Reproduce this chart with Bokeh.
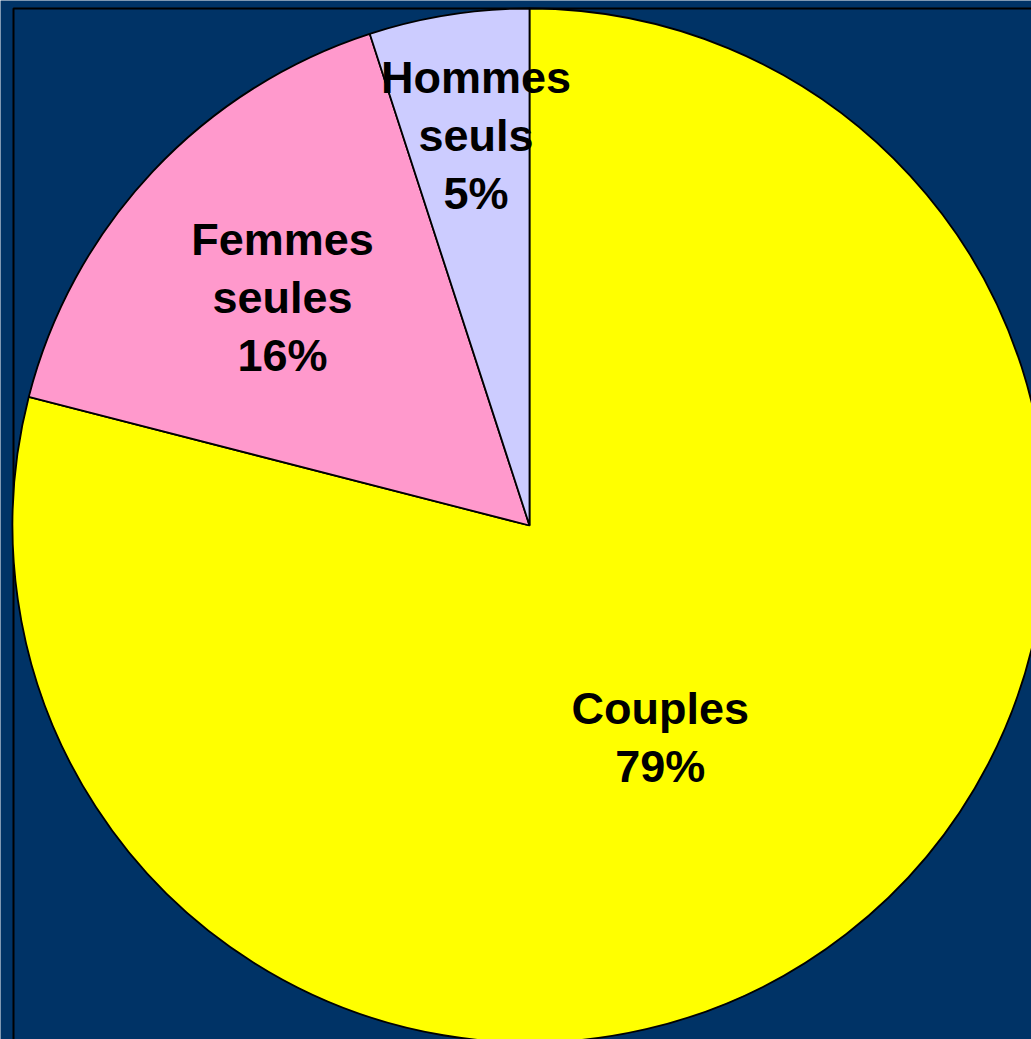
import math
from bokeh.plotting import figure
from bokeh.models import Range1d, ColumnDataSource
from bokeh.core.properties import value
from bokeh.embed import file_html
from bokeh.resources import INLINE

# ---- data ----
categories = ["Couples", "Femmes\nseules", "Hommes\nseuls"]
shares = [79, 16, 5]
colors = ["#FFFF00", "#FF99CC", "#CCCCFF"]

# ---- style / layout ----
W, H = 1031, 1039
cx, cy, R = 529, H - 525, 517
label_r = [249, 336, 394]
label_shift = [-6.1, 0.5, -1.2]

total = float(sum(shares))
starts, ends, lx, ly, texts = [], [], [], [], []
cum = 0.0
for i, (c, v) in enumerate(zip(categories, shares)):
    a0 = math.pi / 2 - 2 * math.pi * cum / total
    cum += v
    a1 = math.pi / 2 - 2 * math.pi * cum / total
    starts.append(a0)
    ends.append(a1)
    mid = (a0 + a1) / 2 + math.radians(label_shift[i])
    lx.append(cx + label_r[i] * math.cos(mid))
    ly.append(cy + label_r[i] * math.sin(mid))
    texts.append(f"{c}\n{v}%")

src = ColumnDataSource(dict(start=starts, end=ends, color=colors))
lsrc = ColumnDataSource(dict(x=lx, y=ly, text=texts))

p = figure(width=W, height=H, output_backend="svg", toolbar_location=None,
           x_range=Range1d(0, W), y_range=Range1d(0, H),
           min_border=0, background_fill_color="#003366",
           border_fill_color="#003366", outline_line_color=None)
p.axis.visible = False
p.grid.visible = False

# chart-area frame
p.quad(left=13, right=2000, top=H - 8, bottom=-1000,
       fill_color=None, line_color="black", line_width=2)

p.wedge(x=cx, y=cy, radius=R, start_angle="start", end_angle="end",
        direction="clock", fill_color="color", line_color="black",
        line_width=1.8, source=src)

p.text(x="x", y="y", text="text", source=lsrc,
       text_font=value("Liberation Sans"), text_font_style="bold",
       text_font_size="45px", text_align="center", text_baseline="middle",
       text_line_height=1.14, text_color="black")

open("out.html", "w").write(file_html(p, INLINE))
